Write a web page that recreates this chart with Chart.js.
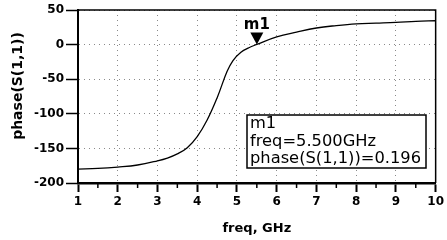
<!DOCTYPE html>
<html>
<head>
<meta charset="utf-8">
<script src="https://cdn.jsdelivr.net/npm/chart.js@4/dist/chart.umd.min.js"></script>
<style>
  html, body { margin: 0; padding: 0; background: #fff; }
  canvas { display: block; }
</style>
</head>
<body>
<canvas id="phaseChart" width="447" height="240"></canvas>
<script>
// phase(S(1,1)) versus frequency
const freqGHz = [1, 1.5, 2, 2.5, 3, 3.25, 3.5, 3.75, 4, 4.25, 4.5, 4.75, 4.9, 5.1, 5.3, 5.5, 6, 6.5, 7, 7.5, 8, 8.5, 9, 9.5, 10];
const phaseDeg = [-180, -179, -177, -174, -168, -164, -158, -149, -133, -109, -77, -39, -23, -11, -4.5, 0.196, 11, 18, 24, 27.5, 30, 31, 32, 33.5, 34.5];

// marker m1
const markerFreq = 5.5;
const markerLines = ["m1", "freq=5.500GHz", "phase(S(1,1))=0.196"];

const FONT = "'DejaVu Sans', sans-serif";

const frame = {
  id: "frame",
  afterDraw(chart) {
    const ctx = chart.ctx;
    const a = chart.chartArea;
    const xs = chart.scales.x;

    ctx.save();
    ctx.strokeStyle = "#000";
    // top and right edges
    ctx.lineWidth = 1.5;
    ctx.beginPath();
    ctx.moveTo(a.left, a.top);
    ctx.lineTo(a.right, a.top);
    ctx.lineTo(a.right, a.bottom);
    ctx.stroke();

    // minor ticks on the freq axis
    for (let v = 1.5; v < 10; v += 1) {
      const px = xs.getPixelForValue(v);
      ctx.beginPath();
      ctx.moveTo(px, a.bottom);
      ctx.lineTo(px, a.bottom + 5);
      ctx.stroke();
    }

    // marker triangle pointing at the trace
    const meta = chart.getDatasetMeta(0);
    const pt = meta.data[freqGHz.indexOf(markerFreq)];
    ctx.fillStyle = "#000";
    ctx.beginPath();
    ctx.moveTo(pt.x, pt.y);
    ctx.lineTo(pt.x - 6.5, pt.y - 12);
    ctx.lineTo(pt.x + 6.5, pt.y - 12);
    ctx.closePath();
    ctx.fill();
    ctx.font = "bold 15px " + FONT;
    ctx.textAlign = "center";
    ctx.textBaseline = "alphabetic";
    ctx.fillText("m1", pt.x, pt.y - 15);

    // readout box
    ctx.fillStyle = "#fff";
    ctx.fillRect(247, 115, 179, 53);
    ctx.lineWidth = 1.5;
    ctx.strokeRect(247, 115, 179, 53);
    ctx.fillStyle = "#000";
    ctx.textAlign = "left";
    ctx.font = "16.3px " + FONT;
    const baselines = [128, 145.5, 162.5];
    markerLines.forEach((t, i) => ctx.fillText(t, 250, baselines[i]));

    // y axis title
    ctx.save();
    ctx.translate(18, 86);
    ctx.rotate(-Math.PI / 2);
    ctx.font = "bold 14px " + FONT;
    ctx.textAlign = "center";
    ctx.textBaseline = "middle";
    ctx.fillText("phase(S(1,1))", 0, 0);
    ctx.restore();

    ctx.restore();
  }
};

const ctx = document.getElementById("phaseChart").getContext("2d");
new Chart(ctx, {
  type: "line",
  data: {
    datasets: [{
      data: freqGHz.map((f, i) => ({ x: f, y: phaseDeg[i] })),
      borderColor: "#000",
      borderWidth: 1.3,
      pointRadius: 0,
      fill: false,
      tension: 0.4
    }]
  },
  options: {
    responsive: false,
    animation: false,
    devicePixelRatio: 1,
    layout: { padding: { left: 0, right: 9, top: 10, bottom: 0 } },
    plugins: { legend: { display: false }, tooltip: { enabled: false } },
    scales: {
      x: {
        type: "linear",
        min: 1,
        max: 10,
        afterFit(scale) { scale.height = 57; },
        ticks: {
          stepSize: 1,
          color: "#000",
          padding: 3,
          maxRotation: 0,
          font: { family: FONT, size: 12, weight: "bold" }
        },
        grid: {
          color: "#8a8a8a",
          lineWidth: 1,
          tickColor: "#000",
          tickWidth: 2,
          tickLength: 9
        },
        border: { display: true, color: "#000", width: 2.5, dash: [1, 4] },
        title: {
          display: true,
          text: "freq, GHz",
          color: "#000",
          padding: { top: 0, bottom: 4 },
          font: { family: FONT, size: 13, weight: "bold" }
        }
      },
      y: {
        min: -200,
        max: 50,
        afterFit(scale) { scale.width = 78; },
        ticks: {
          stepSize: 50,
          color: "#000",
          padding: 2,
          font: { family: FONT, size: 12, weight: "bold" }
        },
        grid: {
          color: "#8a8a8a",
          lineWidth: 1,
          tickColor: "#000",
          tickWidth: 1.5,
          tickLength: 12
        },
        border: { display: true, color: "#000", width: 2, dash: [1, 4] }
      }
    }
  },
  plugins: [frame]
});
</script>
</body>
</html>
